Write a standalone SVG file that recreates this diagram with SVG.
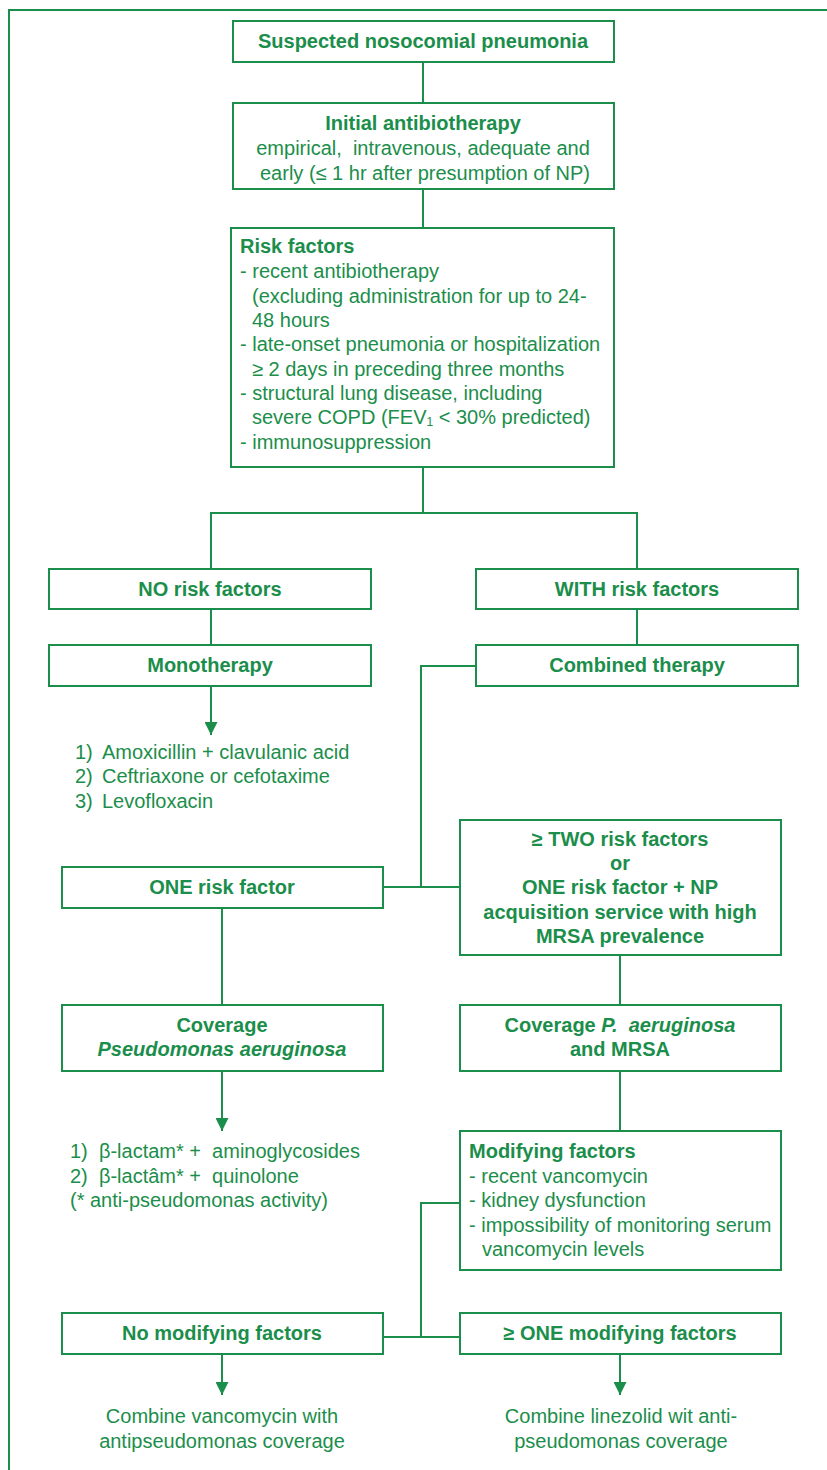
<svg xmlns="http://www.w3.org/2000/svg" width="827" height="1470" viewBox="0 0 827 1470">
<style>
.box{fill:#fff;stroke:#1b8e4b;stroke-width:2}
.ln{fill:none;stroke:#1b8e4b;stroke-width:2}
text{font-family:"Liberation Sans",Arial,sans-serif;fill:#1b8e4b;font-size:20px}
.b{font-weight:bold}
.c{text-anchor:middle}
</style>
<defs>
<marker id="ah" viewBox="0 0 13 13" refX="13" refY="6.5" markerWidth="13" markerHeight="13" markerUnits="userSpaceOnUse" orient="auto">
<path d="M0,0 L13,6.5 L0,13 Z" fill="#1b8e4b"/>
</marker>
</defs>
<rect width="827" height="1470" fill="#fff"/>
<path class="ln" d="M9,1470 V10 H827"/>
<g id="connectors">
<path class="ln" d="M423,62 V103"/>
<path class="ln" d="M423,189 V228"/>
<path class="ln" d="M423,467 V513 M211,569 V513 H637 V569"/>
<path class="ln" d="M211,609 V645"/>
<path class="ln" d="M637,609 V645"/>
<path class="ln" d="M211,686 V735" marker-end="url(#ah)"/>
<path class="ln" d="M476,666 H421 V887 M383,887 H460"/>
<path class="ln" d="M222,908 V1005"/>
<path class="ln" d="M620,955 V1005"/>
<path class="ln" d="M222,1071 V1131" marker-end="url(#ah)"/>
<path class="ln" d="M620,1071 V1131"/>
<path class="ln" d="M460,1203 H421 V1337 M383,1337 H460"/>
<path class="ln" d="M222,1354 V1395" marker-end="url(#ah)"/>
<path class="ln" d="M620,1354 V1395" marker-end="url(#ah)"/>
</g>
<g id="n1">
<rect class="box" x="233" y="21" width="381" height="41"/>
<text class="b c" x="423" y="48">Suspected nosocomial pneumonia</text>
</g>
<g id="n2">
<rect class="box" x="233" y="103" width="381" height="86"/>
<text class="b c" x="423" y="130">Initial antibiotherapy</text>
<text class="c" x="423" y="155" xml:space="preserve">empirical,  intravenous, adequate and</text>
<text class="c" x="425" y="180">early (≤ 1 hr after presumption of NP)</text>
</g>
<g id="n3">
<rect class="box" x="231" y="228" width="383" height="239"/>
<text class="b" x="240" y="253">Risk factors</text>
<text x="240" y="278">- recent antibiotherapy</text>
<text x="252" y="303">(excluding administration for up to 24-</text>
<text x="252" y="327">48 hours</text>
<text x="240" y="351">- late-onset pneumonia or hospitalization</text>
<text x="252" y="376">≥ 2 days in preceding three months</text>
<text x="240" y="400">- structural lung disease, including</text>
<text x="252" y="424">severe COPD (FEV<tspan font-size="12" dy="2">1</tspan><tspan dy="-2"> &lt; 30% predicted)</tspan></text>
<text x="240" y="449">- immunosuppression</text>
</g>
<g id="n4">
<rect class="box" x="49" y="569" width="322" height="40"/>
<text class="b c" x="210" y="596">NO risk factors</text>
</g>
<g id="n5">
<rect class="box" x="476" y="569" width="322" height="40"/>
<text class="b c" x="637" y="596">WITH risk factors</text>
</g>
<g id="n6">
<rect class="box" x="49" y="645" width="322" height="41"/>
<text class="b c" x="210" y="672">Monotherapy</text>
</g>
<g id="n7">
<rect class="box" x="476" y="645" width="322" height="41"/>
<text class="b c" x="637" y="672">Combined therapy</text>
</g>
<g id="t1">
<text x="75" y="759">1)</text><text x="102" y="759">Amoxicillin + clavulanic acid</text>
<text x="75" y="783">2)</text><text x="102" y="783">Ceftriaxone or cefotaxime</text>
<text x="75" y="808">3)</text><text x="102" y="808">Levofloxacin</text>
</g>
<g id="n8">
<rect class="box" x="62" y="867" width="321" height="41"/>
<text class="b c" x="222" y="894">ONE risk factor</text>
</g>
<g id="n9">
<rect class="box" x="460" y="820" width="321" height="135"/>
<text class="b c" x="620" y="846">≥ TWO risk factors</text>
<text class="b c" x="620" y="870">or</text>
<text class="b c" x="620" y="894">ONE risk factor + NP</text>
<text class="b c" x="620" y="919">acquisition service with high</text>
<text class="b c" x="620" y="943">MRSA prevalence</text>
</g>
<g id="n10">
<rect class="box" x="62" y="1005" width="321" height="66"/>
<text class="b c" x="222" y="1032">Coverage</text>
<text class="b c" x="222" y="1056" font-style="italic">Pseudomonas aeruginosa</text>
</g>
<g id="n11">
<rect class="box" x="460" y="1005" width="321" height="66"/>
<text class="b c" x="620" y="1032" xml:space="preserve">Coverage <tspan font-style="italic">P.  aeruginosa</tspan></text>
<text class="b c" x="620" y="1056">and MRSA</text>
</g>
<g id="t2">
<text x="70" y="1158" xml:space="preserve">1)  β-lactam* +  aminoglycosides</text>
<text x="70" y="1183" xml:space="preserve">2)  β-lactâm* +  quinolone</text>
<text x="70" y="1207">(* anti-pseudomonas activity)</text>
</g>
<g id="n12">
<rect class="box" x="460" y="1131" width="321" height="139"/>
<text class="b" x="469" y="1158">Modifying factors</text>
<text x="469" y="1183">- recent vancomycin</text>
<text x="469" y="1207">- kidney dysfunction</text>
<text x="469" y="1232">- impossibility of monitoring serum</text>
<text x="482" y="1256">vancomycin levels</text>
</g>
<g id="n13">
<rect class="box" x="62" y="1313" width="321" height="41"/>
<text class="b c" x="222" y="1340">No modifying factors</text>
</g>
<g id="n14">
<rect class="box" x="460" y="1313" width="321" height="41"/>
<text class="b c" x="620" y="1340">≥ ONE modifying factors</text>
</g>
<g id="t3">
<text class="c" x="222" y="1423">Combine vancomycin with</text>
<text class="c" x="222" y="1448">antipseudomonas coverage</text>
<text class="c" x="621" y="1423">Combine linezolid wit anti-</text>
<text class="c" x="621" y="1448">pseudomonas coverage</text>
</g>
</svg>
